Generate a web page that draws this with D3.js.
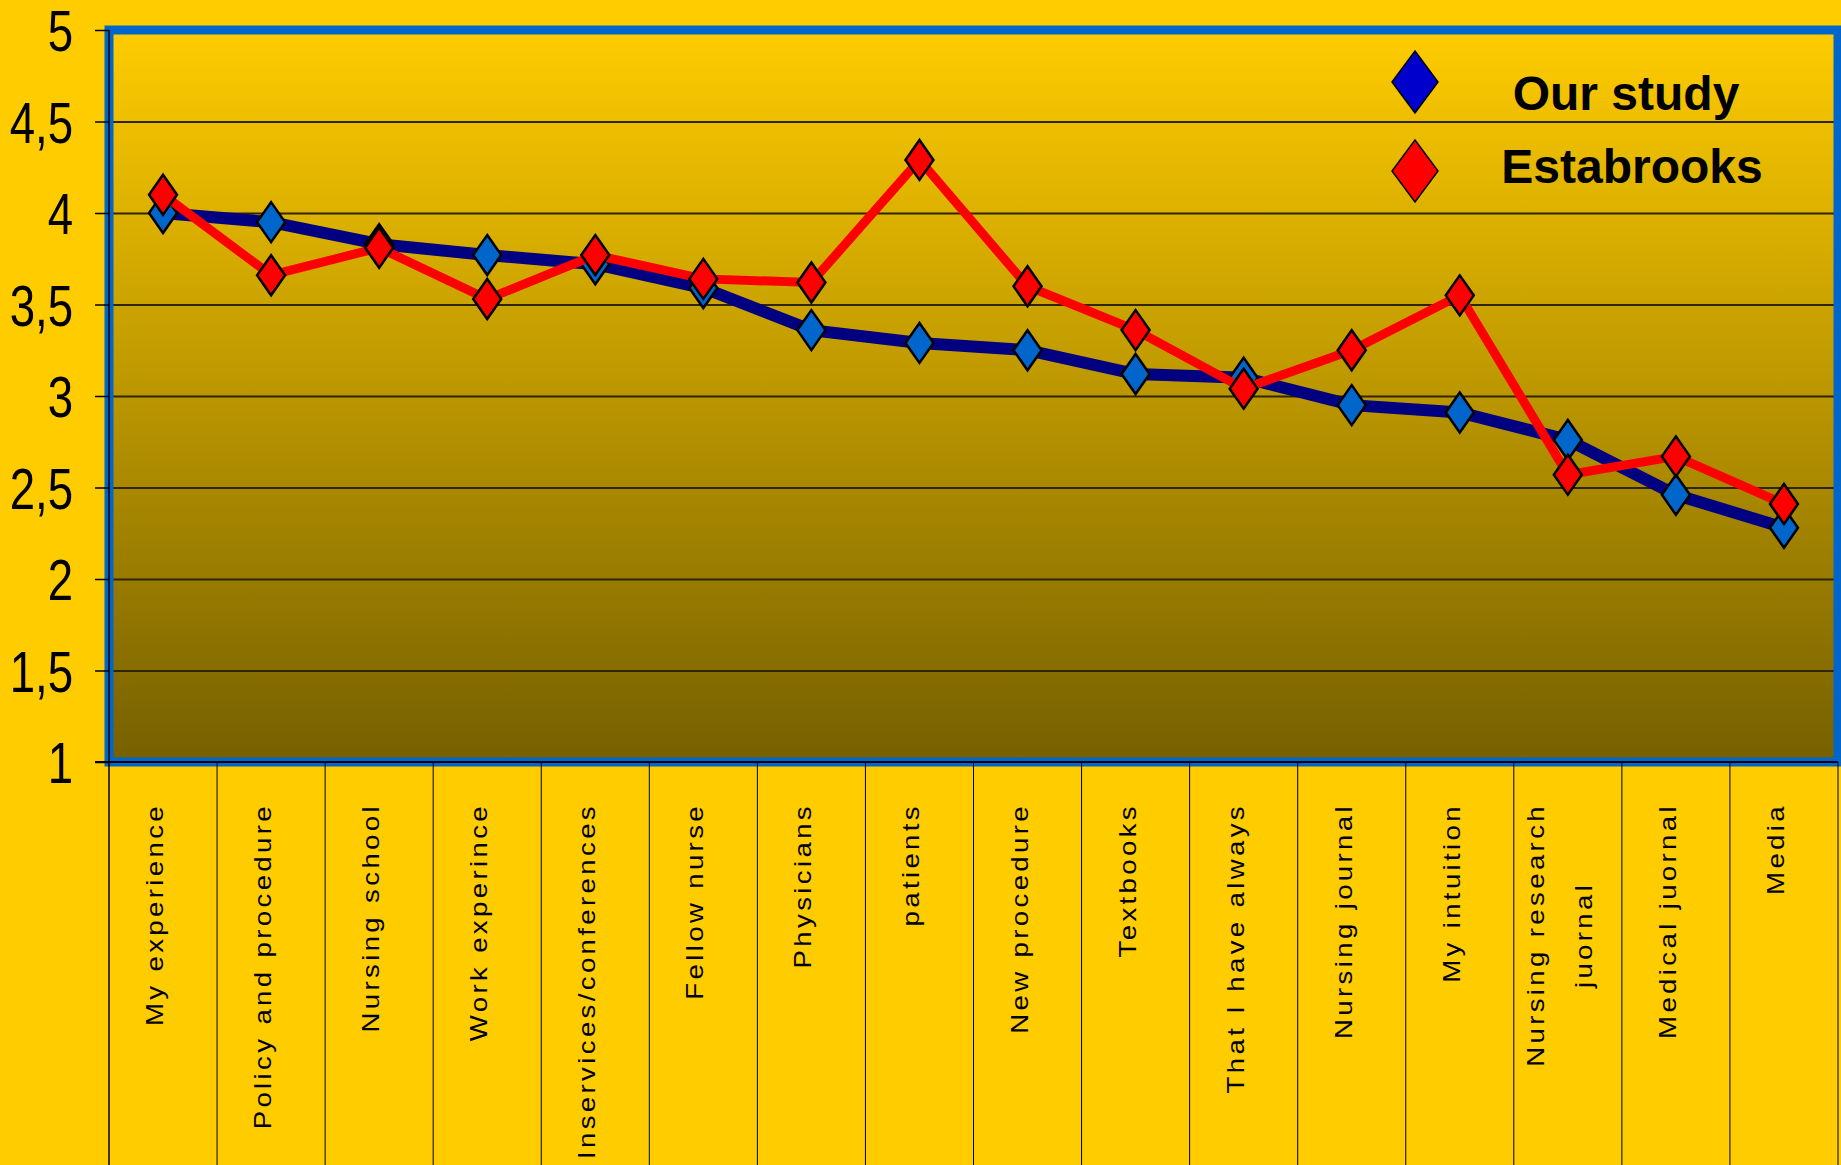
<!DOCTYPE html>
<html>
<head>
<meta charset="utf-8">
<script src="https://cdnjs.cloudflare.com/ajax/libs/d3/7.8.5/d3.min.js"></script>
<style>
	html, body { margin: 0; padding: 0; background: #ffcc00; }
	svg { display: block; }
</style>
</head>
<body>
<div id="chart"></div>
<script>
// categories (x) - line breaks kept as in the original chart
const categories = [
	"My experience", "Policy and procedure", "Nursing school", "Work experince",
	"Inservices/conferences", "Fellow nurse", "Physicians", "patients",
	"New procedure", "Textbooks", "That I have always", "Nursing journal",
	"My intuition", "Nursing research\njuornal", "Medical juornal", "Media"
];
const ourStudy = [4.00, 3.95, 3.83, 3.77, 3.72, 3.59, 3.36, 3.29, 3.25, 3.12, 3.10, 2.95, 2.91, 2.76, 2.46, 2.28];
const estabrooks = [4.10, 3.66, 3.81, 3.53, 3.77, 3.64, 3.62, 4.29, 3.60, 3.36, 3.04, 3.25, 3.55, 2.57, 2.67, 2.41];
const seriesNames = ["Our study", "Estabrooks"];
const yTicks = [1, 1.5, 2, 2.5, 3, 3.5, 4, 4.5, 5];

const width = 1841, height = 1165;
const plotLeft = 109, plotRight = 1838, plotTop = 30, plotBottom = 762;

const svg = d3.select("#chart").append("svg")
	.attr("width", width)
	.attr("height", height);

const x = d3.scaleBand().domain(categories).range([plotLeft, plotRight]);
const y = d3.scaleLinear().domain([1, 5]).range([plotBottom, plotTop]);
const cx = d => x(d) + x.bandwidth() / 2;

// plot background gradient
const grad = svg.append("defs").append("linearGradient")
	.attr("id", "bg").attr("x1", 0).attr("y1", 0).attr("x2", 0).attr("y2", 1);
grad.append("stop").attr("offset", "0%").attr("stop-color", "#ffcc00");
grad.append("stop").attr("offset", "100%").attr("stop-color", "#766000");

svg.append("rect")
	.attr("x", plotLeft).attr("y", plotTop)
	.attr("width", plotRight - plotLeft).attr("height", plotBottom - plotTop)
	.attr("fill", "url(#bg)");

// gridlines
svg.append("g")
	.attr("transform", `translate(${plotLeft},0)`)
	.call(d3.axisLeft(y).tickValues(yTicks.slice(1, -1)).tickSize(-(plotRight - plotLeft)).tickFormat(""))
	.call(g => g.select(".domain").remove())
	.call(g => g.selectAll("line").attr("stroke", "#2e2600").attr("stroke-width", 2));

// frame
svg.append("rect")
	.attr("x", plotLeft).attr("y", plotTop)
	.attr("width", plotRight - plotLeft).attr("height", plotBottom - plotTop)
	.attr("fill", "none")
	.attr("stroke", "#0066cc")
	.attr("stroke-width", 9);

// y axis
const yAxis = svg.append("g")
	.attr("transform", `translate(${plotLeft},0)`)
	.call(d3.axisLeft(y).tickValues(yTicks).tickSize(14).tickFormat(d => String(d).replace(".", ",")));
yAxis.select(".domain").remove();
yAxis.selectAll("line").attr("stroke", "#000").attr("stroke-width", 1.5);
yAxis.selectAll("text")
	.attr("x", -45)
	.attr("dy", "0.36em")
	.attr("transform", "scale(0.8,1)")
	.attr("fill", "#000")
	.style("font-family", "'Liberation Sans', Arial, sans-serif")
	.style("font-size", "57px");

// axis lines
svg.append("line")
	.attr("x1", plotLeft).attr("x2", plotLeft).attr("y1", plotTop).attr("y2", height)
	.attr("stroke", "#000").attr("stroke-width", 1.5);
svg.append("line")
	.attr("x1", plotLeft - 14).attr("x2", plotRight).attr("y1", plotBottom).attr("y2", plotBottom)
	.attr("stroke", "#000").attr("stroke-width", 2);

// category dividers
svg.append("g").selectAll("line")
	.data(categories.slice(1).map(c => x(c)).concat([plotRight]))
	.enter().append("line")
	.attr("x1", d => d).attr("x2", d => d)
	.attr("y1", plotBottom).attr("y2", height)
	.attr("stroke", "#000").attr("stroke-width", 1);

// category labels (glyphs stretched along the reading direction)
const stretch = 1.2;
const labels = svg.append("g").selectAll("text")
	.data(categories)
	.enter().append("text")
	.attr("transform", d => `translate(${cx(d)},803) rotate(-90) scale(${stretch},1)`)
	.style("font-family", "'Liberation Sans', Arial, sans-serif")
	.style("font-size", "23px")
	.style("letter-spacing", "2.8px")
	.attr("fill", "#000");

labels.each(function (d) {
	const lines = d.split("\n");
	const el = d3.select(this);
	const spans = lines.map((t, i) => el.append("tspan")
		.attr("y", (i - (lines.length - 1) / 2) * 48)
		.text(t));
	const lens = spans.map(s => s.node().getComputedTextLength());
	const maxLen = d3.max(lens);
	spans.forEach(s => s.attr("x", -maxLen / 2).attr("text-anchor", "middle"));
});

// series
const line = d3.line()
	.x((d, i) => cx(categories[i]))
	.y(d => y(d));

const diamond = "M0,-20L14,0L0,20L-14,0Z";

function drawSeries (values, lineColor, lineWidth, markerColor) {
	svg.append("path")
		.datum(values)
		.attr("d", line)
		.attr("fill", "none")
		.attr("stroke", lineColor)
		.attr("stroke-width", lineWidth)
		.attr("stroke-linejoin", "miter");

	svg.append("g").selectAll("path")
		.data(values)
		.enter().append("path")
		.attr("d", diamond)
		.attr("transform", (d, i) => `translate(${cx(categories[i])},${y(d)})`)
		.attr("fill", markerColor)
		.attr("stroke", "#000")
		.attr("stroke-width", 2.5);
}

drawSeries(ourStudy, "#000080", 12, "#0066cc");
drawSeries(estabrooks, "#ff0000", 9, "#ff0000");

// legend
const legendColors = ["#0000cc", "#ff0000"];
const legend = svg.append("g").selectAll("g")
	.data(seriesNames)
	.enter().append("g")
	.attr("transform", (d, i) => `translate(0,${82 + i * 89})`);

legend.append("path")
	.attr("d", "M1415,-31L1438,0L1415,31L1392,0Z")
	.attr("fill", (d, i) => legendColors[i])
	.attr("stroke", "#000")
	.attr("stroke-width", 1.5);

legend.append("text")
	.attr("x", (d, i) => i === 0 ? 1626 : 1632)
	.attr("y", (d, i) => i === 0 ? 28 : 12)
	.attr("text-anchor", "middle")
	.style("font-family", "'Liberation Sans', Arial, sans-serif")
	.style("font-size", "48px")
	.style("font-weight", "bold")
	.attr("fill", "#000")
	.text(d => d);
</script>
</body>
</html>
